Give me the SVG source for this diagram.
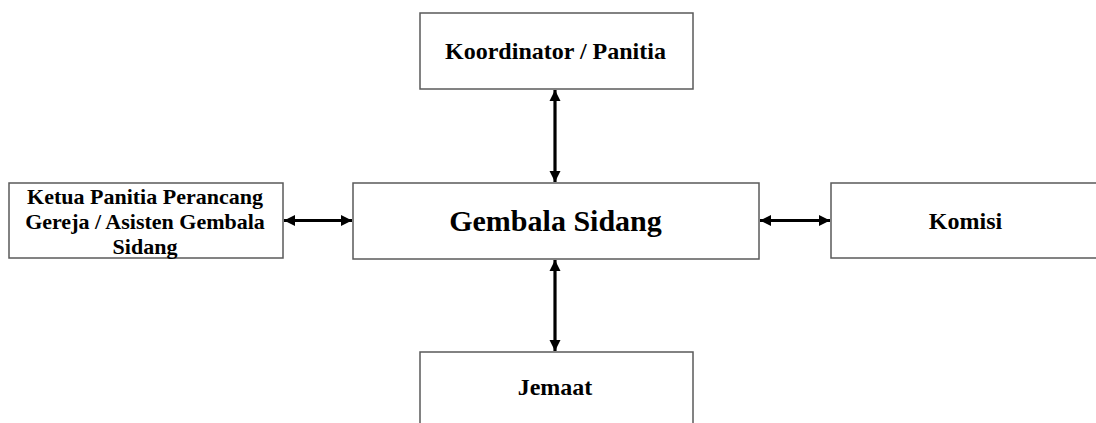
<svg xmlns="http://www.w3.org/2000/svg" width="1096" height="423" viewBox="0 0 1096 423">
<style>
.box{fill:#fff;stroke:#5a5a5a;stroke-width:1.5}
.t{font-family:"Liberation Serif","Times New Roman",serif;font-weight:bold;fill:#000;text-anchor:middle}
.s{font-size:24px}
.l{font-size:22px}
.b{font-size:30px}
.c{stroke:#000;stroke-width:3.2;fill:none;marker-start:url(#ah);marker-end:url(#ah)}
</style>
<defs>
<marker id="ah" viewBox="0 0 10 10" refX="10" refY="5" markerWidth="11" markerHeight="12" markerUnits="userSpaceOnUse" orient="auto-start-reverse">
<path d="M0,0 L10,5 L0,10 Z" fill="#000"/>
</marker>
</defs>
<rect width="1096" height="423" fill="#fff"/>
<g id="connectors">
<line class="c" x1="555" y1="90" x2="555" y2="182"/>
<line class="c" x1="555" y1="260" x2="555" y2="351"/>
<line class="c" x1="284" y1="220.5" x2="352" y2="220.5"/>
<line class="c" x1="760" y1="220.5" x2="830" y2="220.5"/>
</g>
<g id="koordinator">
<rect class="box" x="420" y="13" width="273" height="76"/>
<text class="t s" x="555.5" y="58.5">Koordinator / Panitia</text>
</g>
<g id="gembala">
<rect class="box" x="353" y="183" width="406" height="76"/>
<text class="t b" x="555.5" y="231">Gembala Sidang</text>
</g>
<g id="ketua">
<rect class="box" x="9" y="183" width="274" height="75"/>
<text class="t l" x="145" y="203.5">Ketua Panitia Perancang</text>
<text class="t l" x="145" y="228.5">Gereja / Asisten Gembala</text>
<text class="t l" x="145" y="253.5">Sidang</text>
</g>
<g id="komisi">
<rect class="box" x="831" y="183" width="266" height="75"/>
<text class="t s" x="965.5" y="228.5">Komisi</text>
</g>
<g id="jemaat">
<rect class="box" x="420" y="352" width="273" height="80"/>
<text class="t s" x="555" y="395">Jemaat</text>
</g>
</svg>
